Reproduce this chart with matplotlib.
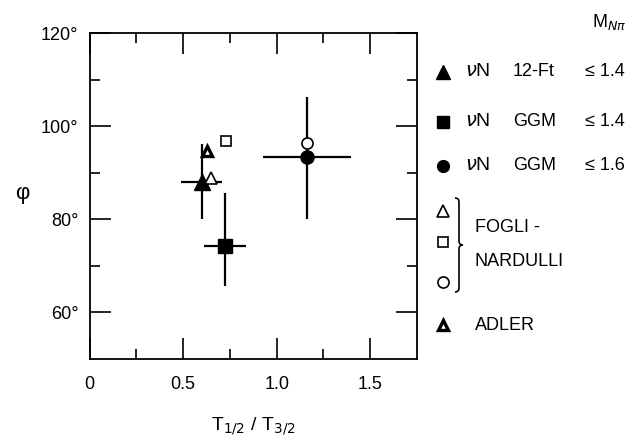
import numpy as np
import matplotlib.pyplot as plt
from matplotlib.path import Path
from matplotlib.patches import PathPatch

plt.rcParams['font.family'] = ['Liberation Sans', 'DejaVu Sans']

# nu N experiments (filled symbols with error bars)
exp_names = ['12-Ft', 'GGM', 'GGM']
exp_cuts = ['≤ 1.4', '≤ 1.4', '≤ 1.6']
exp_markers = ['^', 's', 'o']
exp_x = [0.60, 0.725, 1.16]
exp_y = [88.0, 74.2, 93.5]
exp_xerr = [0.11, 0.113, 0.235]
exp_yerr_lo = [8.0, 8.5, 13.5]
exp_yerr_hi = [8.2, 11.5, 12.8]

# Fogli-Nardulli predictions (open symbols)
fn_markers = ['^', 's', 'o']
fn_x = [0.648, 0.728, 1.16]
fn_y = [88.8, 96.8, 96.5]

# Adler prediction
adler_x = [0.63]
adler_y = [94.8]

xticks = [0, 0.5, 1.0, 1.5]
xticklabels = ['0', '0.5', '1.0', '1.5']
yticks = [60, 80, 100, 120]
yticklabels = ['60°', '80°', '100°', '120°']

fs = 13
W, H = 639, 445
fig = plt.figure(figsize=(W / 100, H / 100), dpi=100)
ax = fig.add_axes([89.5 / W, 1 - 359 / H, (417 - 89.5) / W, (359 - 33.3) / H])

ms_filled = [11, 9.5, 9.5]
ms_open = [8.5, 7.5, 8]
for i in range(3):
    ax.errorbar(exp_x[i], exp_y[i], xerr=exp_xerr[i],
                yerr=[[exp_yerr_lo[i]], [exp_yerr_hi[i]]],
                fmt=exp_markers[i], color='black', ms=ms_filled[i],
                elinewidth=1.6, capsize=0, zorder=3)
for i in range(3):
    ax.plot(fn_x[i], fn_y[i], fn_markers[i], ms=ms_open[i], mfc='white',
            mec='black', mew=1.2, zorder=4)
ax.plot(adler_x, adler_y, '^', ms=7, mfc='white', mec='black', mew=2.4,
        zorder=4)

ax.set_xlim(0, 1.75)
ax.set_ylim(50, 120)
ax.set_xticks(xticks)
ax.set_xticklabels(xticklabels, fontsize=fs)
ax.set_xticks([0.25, 0.75, 1.25], minor=True)
ax.set_yticks(yticks)
ax.set_yticklabels(yticklabels, fontsize=fs)
ax.set_yticks([70, 90, 110], minor=True)
ax.tick_params(which='both', direction='in', top=True, right=True, width=1.2)
ax.tick_params(which='major', length=15)
ax.tick_params(which='minor', length=7)
ax.tick_params(axis='x', pad=12)
ax.tick_params(axis='y', pad=8)
for s in ax.spines.values():
    s.set_linewidth(1.3)

ax.set_xlabel(r'T$_{1/2}$ / T$_{3/2}$', fontsize=fs + 1, labelpad=16)

# overlay in pixel coordinates for the key and the phi label
lax = fig.add_axes([0, 0, 1, 1], facecolor='none')
lax.set_xlim(0, W)
lax.set_ylim(H, 0)
lax.axis('off')

lax.text(22, 193, 'φ', fontsize=fs + 3, ha='center', va='center')
lax.text(592, 22, r'M$_{N\pi}$', fontsize=fs, ha='left', va='center')

rows_y = [72, 122, 166]
for i in range(3):
    lax.plot(443, rows_y[i], exp_markers[i], color='black', ms=ms_filled[i] - 1)
    lax.text(465, rows_y[i], r'$\nu$N', fontsize=fs + 1, ha='left', va='center')
    lax.text(513, rows_y[i], exp_names[i], fontsize=fs, ha='left', va='center')
    lax.text(585, rows_y[i], exp_cuts[i], fontsize=fs, ha='left', va='center')

fn_rows = [211, 242, 282]
for i in range(3):
    lax.plot(443, fn_rows[i], fn_markers[i], ms=ms_open[i], mfc='white',
             mec='black', mew=1.2)
lax.text(475, 228, 'FOGLI -', fontsize=fs, ha='left', va='center')
lax.text(475, 261, 'NARDULLI', fontsize=fs, ha='left', va='center')

verts = [(455, 198), (459, 198), (459, 202), (459, 241), (459, 245), (463, 245),
         (459, 245), (459, 249), (459, 288), (459, 292), (455, 292)]
codes = [Path.MOVETO, Path.CURVE3, Path.CURVE3, Path.LINETO, Path.CURVE3, Path.CURVE3,
         Path.CURVE3, Path.CURVE3, Path.LINETO, Path.CURVE3, Path.CURVE3]
lax.add_patch(PathPatch(Path(verts, codes), fill=False, lw=1.2, color='black'))

lax.plot(443, 325, '^', ms=7, mfc='white', mec='black', mew=2.4)
lax.text(475, 325, 'ADLER', fontsize=fs, ha='left', va='center')

fig.savefig('out.png', dpi=100)
